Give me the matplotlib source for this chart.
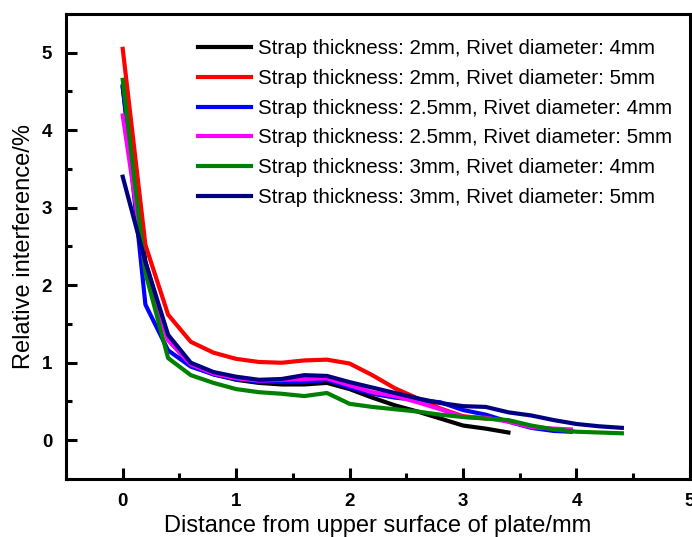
import matplotlib
matplotlib.use("Agg")
import matplotlib.pyplot as plotter
from matplotlib.ticker import MultipleLocator

plotter.rcParams["font.family"] = ["Liberation Sans", "DejaVu Sans"]

labels = ["Strap thickness: 2mm, Rivet diameter: 4mm",
          "Strap thickness: 2mm, Rivet diameter: 5mm",
          "Strap thickness: 2.5mm, Rivet diameter: 4mm",
          "Strap thickness: 2.5mm, Rivet diameter: 5mm",
          "Strap thickness: 3mm, Rivet diameter: 4mm",
          "Strap thickness: 3mm, Rivet diameter: 5mm"]
colors = ["black", "red", "blue", "magenta", "green", "navy"]

x_black   = [0, 0.2, 0.4, 0.6, 0.8, 1.0, 1.2, 1.4, 1.6, 1.8, 2.0, 2.2, 2.4, 2.6, 2.8, 3.0, 3.2, 3.4]
y_black   = [4.55, 2.3, 1.3, 0.97, 0.85, 0.78, 0.74, 0.72, 0.72, 0.74, 0.66, 0.55, 0.45, 0.37, 0.28, 0.19, 0.15, 0.10]

x_red     = [0, 0.2, 0.4, 0.6, 0.8, 1.0, 1.2, 1.4, 1.6, 1.8, 2.0, 2.2, 2.4, 2.6, 2.8, 3.0, 3.2]
y_red     = [5.05, 2.52, 1.62, 1.27, 1.13, 1.05, 1.01, 1.0, 1.03, 1.04, 0.99, 0.84, 0.67, 0.54, 0.41, 0.31, 0.28]

x_blue    = [0, 0.2, 0.4, 0.6, 0.8, 1.0, 1.2, 1.4, 1.6, 1.8, 2.0, 2.2, 2.4, 2.6, 2.8, 3.0, 3.2, 3.4, 3.6, 3.8, 3.95]
y_blue    = [4.57, 1.75, 1.16, 0.95, 0.85, 0.79, 0.76, 0.75, 0.75, 0.78, 0.68, 0.6, 0.55, 0.52, 0.49, 0.39, 0.33, 0.24, 0.16, 0.12, 0.11]

x_magenta = [0, 0.2, 0.4, 0.6, 0.8, 1.0, 1.2, 1.4, 1.6, 1.8, 2.0, 2.2, 2.4, 2.6, 2.8, 3.0, 3.2, 3.4, 3.6, 3.8, 3.95]
y_magenta = [4.19, 2.2, 1.29, 0.98, 0.86, 0.8, 0.77, 0.78, 0.79, 0.8, 0.71, 0.62, 0.57, 0.49, 0.40, 0.30, 0.29, 0.24, 0.17, 0.15, 0.14]

x_green   = [0, 0.2, 0.4, 0.6, 0.8, 1.0, 1.2, 1.4, 1.6, 1.8, 2.0, 2.2, 2.4, 2.6, 2.8, 3.0, 3.2, 3.4, 3.6, 3.8, 4.0, 4.2, 4.4]
y_green   = [4.65, 2.16, 1.06, 0.84, 0.74, 0.66, 0.62, 0.6, 0.57, 0.61, 0.47, 0.43, 0.40, 0.37, 0.33, 0.30, 0.28, 0.26, 0.19, 0.14, 0.11, 0.10, 0.09]

x_navy    = [0, 0.2, 0.4, 0.6, 0.8, 1.0, 1.2, 1.4, 1.6, 1.8, 2.0, 2.2, 2.4, 2.6, 2.8, 3.0, 3.2, 3.4, 3.6, 3.8, 4.0, 4.2, 4.4]
y_navy    = [3.4, 2.3, 1.36, 1.0, 0.88, 0.82, 0.78, 0.79, 0.84, 0.83, 0.75, 0.68, 0.61, 0.54, 0.48, 0.44, 0.43, 0.36, 0.32, 0.26, 0.21, 0.18, 0.16]

xs = [x_black, x_red, x_blue, x_magenta, x_green, x_navy]
ys = [y_black, y_red, y_blue, y_magenta, y_green, y_navy]

fig = plotter.figure(figsize=(6.92, 5.37), dpi=100)
ax = fig.add_axes([0.0954, 0.108, 0.9016, 0.866])

for i in range(6):
    ax.plot(xs[i], ys[i], color=colors[i], linewidth=3, label=labels[i])

ax.set_xlim(-0.5, 5)
ax.set_ylim(-0.5, 5.5)
ax.xaxis.set_major_locator(MultipleLocator(1))
ax.xaxis.set_minor_locator(MultipleLocator(0.5))
ax.yaxis.set_major_locator(MultipleLocator(1))
ax.yaxis.set_minor_locator(MultipleLocator(0.5))
ax.tick_params(which="both", direction="in", top=False, right=False, width=2.2)
ax.tick_params(which="major", length=8, pad=10, labelsize=13.5)
ax.tick_params(which="minor", length=4.5)
for lbl in ax.get_xticklabels() + ax.get_yticklabels():
    lbl.set_fontweight("bold")
for sp in ax.spines.values():
    sp.set_linewidth(2.2)

ax.set_xlabel("Distance from upper surface of plate/mm", fontsize=17, labelpad=4)
ax.set_ylabel("Relative interference/%", fontsize=17, labelpad=5)

ax.legend(loc="upper right", frameon=False, fontsize=14.8, handlelength=2.6,
          handletextpad=0.33, labelspacing=0.52, bbox_to_anchor=(0.985, 0.963),
          borderaxespad=0)

fig.savefig("out.png", dpi=100)
